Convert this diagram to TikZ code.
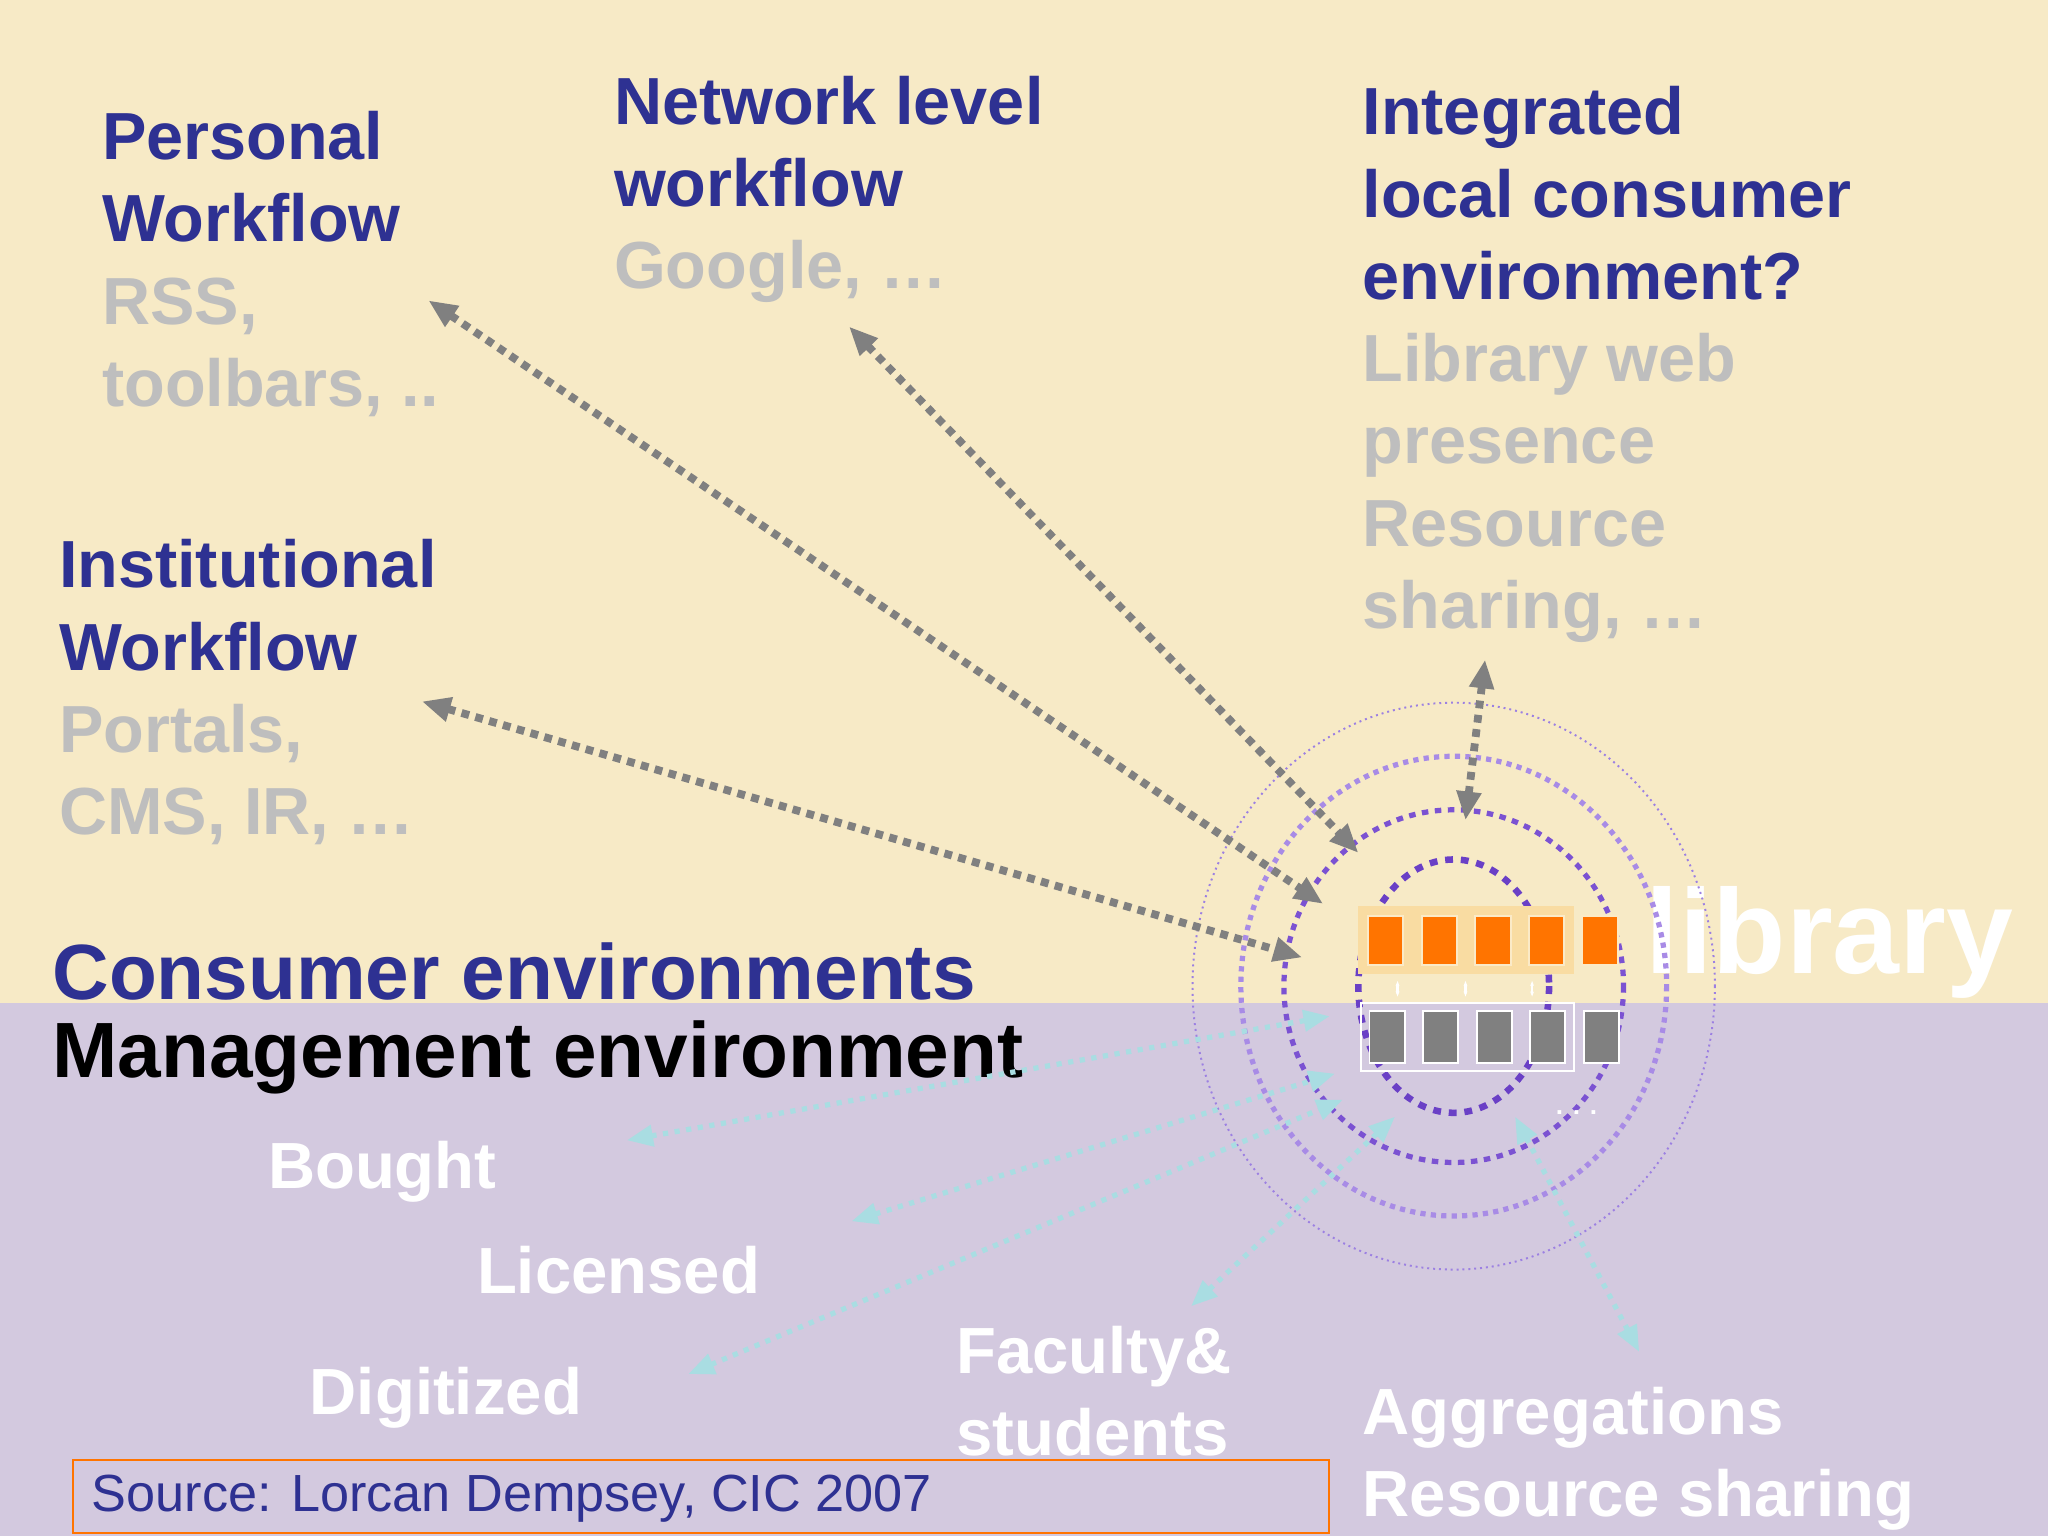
\documentclass[tikz,border=0pt]{standalone}
\usepackage{fontspec}
\setmainfont{Liberation Sans}
\usetikzlibrary{arrows.meta}
\definecolor{bgtop}{HTML}{F7EAC6}
\definecolor{bgbot}{HTML}{D3C9DF}
\definecolor{ttl}{HTML}{2E3192}
\definecolor{sub}{HTML}{BEBEBE}
\definecolor{arr}{HTML}{808080}
\definecolor{cya}{HTML}{A9DDE2}
\definecolor{pA}{HTML}{9C80E2}
\definecolor{pB}{HTML}{A88BE6}
\definecolor{pC}{HTML}{7B52D2}
\definecolor{pD}{HTML}{6A40C6}
\definecolor{org}{HTML}{FF7400}
\definecolor{orgbg}{HTML}{F9DCA2}
\tikzset{
  blk/.style={anchor=north west,inner sep=0pt,align=left,font=\fontsize{51}{63}\selectfont\bfseries},
  grayarr/.style={draw=arr,line width=6pt,dash pattern=on 6pt off 5pt,-{Triangle[length=22pt,width=18pt]}},
  cyarr/.style={draw=cya,line width=4pt,dash pattern=on 4pt off 5pt,{Triangle[length=20pt,width=16pt]}-{Triangle[length=20pt,width=16pt]}},
  obox/.style={fill=org,draw=orgbg!60!white,line width=1.5pt,minimum width=27pt,minimum height=37pt,inner sep=0pt},
  gbox/.style={fill=arr,draw=white,line width=1.5pt,minimum width=27pt,minimum height=40pt,inner sep=0pt},
}
\begin{document}
\begin{tikzpicture}[x=1pt,y=-1pt]
\useasboundingbox (0,0) rectangle (1568,1176);
\fill[bgtop] (0,0) rectangle (1568,768);
\fill[bgbot] (0,768) rectangle (1568,1176);
% library label
\node[anchor=base west,inner sep=0pt,text=white,font=\fontsize{92}{92}\selectfont\bfseries] (lib) at (1260,745) {library};
% rings
\coordinate (ctr) at (1113,755);
\draw[pA,line width=1.5pt,dash pattern=on 1.5pt off 3pt] (ctr) ellipse [x radius=200,y radius=217];
\draw[pB,line width=4pt,dash pattern=on 4pt off 4pt] (ctr) ellipse [x radius=163,y radius=176];
\draw[pC,line width=4pt,dash pattern=on 5pt off 5pt] (ctr) ellipse [x radius=130,y radius=135];
\draw[pD,line width=5pt,dash pattern=on 6pt off 6pt] (ctr) ellipse [x radius=73,y radius=97];
% boxes
\fill[orgbg] (1040,694) rectangle (1205,746);
\foreach \i in {0,...,4}{\node[obox] (o\i) at (1061+\i*41,720) {};}
\draw[white,line width=1.5pt] (1042,768) rectangle (1205,820);
\foreach \i in {0,...,4}{\node[gbox] (g\i) at (1062+\i*41,794) {};}
\foreach \x in {1070,1122,1173}{\draw[white,line width=2pt,{Stealth[length=4pt]}-{Stealth[length=4pt]}] (\x,751) -- (\x,763);}
\node[text=white,font=\fontsize{20}{20}\selectfont\bfseries,inner sep=0pt] (dots) at (1207,852) {. . .};
% texts
\node[blk] (pw) at (78,85) {\textcolor{ttl}{Personal}\\\textcolor{ttl}{Workflow}\\\textcolor{sub}{RSS,}\\\textcolor{sub}{toolbars, ..}};
\node[blk] (nw) at (470,58) {\textcolor{ttl}{Network level}\\\textcolor{ttl}{workflow}\\\textcolor{sub}{Google, …}};
\node[blk] (il) at (1043,66) {\textcolor{ttl}{Integrated}\\\textcolor{ttl}{local consumer}\\\textcolor{ttl}{environment?}\\\textcolor{sub}{Library web}\\\textcolor{sub}{presence}\\\textcolor{sub}{Resource}\\\textcolor{sub}{sharing, …}};
\node[blk] (iw) at (45,413) {\textcolor{ttl}{Institutional}\\\textcolor{ttl}{Workflow}\\\textcolor{sub}{Portals,}\\\textcolor{sub}{CMS, IR, …}};
\node[anchor=base west,inner sep=0pt,text=ttl,font=\fontsize{60}{60}\selectfont\bfseries] (ce) at (40,765) {Consumer environments};
\node[anchor=base west,inner sep=0pt,text=black,font=\fontsize{60}{60}\selectfont\bfseries] (me) at (40,825) {Management environment};
\tikzset{wt/.style={anchor=base west,inner sep=0pt,text=white,align=left,font=\fontsize{50}{63}\selectfont\bfseries}}
\node[wt] (bo) at (205,910) {Bought};
\node[wt] (li) at (365,990) {Licensed};
\node[wt] (di) at (237,1083) {Digitized};
\node[wt,anchor=north west] (fa) at (732,1015) {Faculty\&\\students};
\node[wt,anchor=north west] (ag) at (1043,1062) {Aggregations\\Resource sharing};
\node[draw=org,line width=1.5pt,anchor=north west,minimum width=962pt,minimum height=56pt,inner sep=0pt] (srcbox) at (55,1117) {};
\node[anchor=base west,inner sep=0pt,text=ttl,font=\fontsize{40}{40}\selectfont] (src) at (70,1157) {Source: Lorcan Dempsey, CIC 2007};
% gray arrows
\coordinate (p1) at (328,230); \coordinate (q1) at (1013,692);
\coordinate (p2) at (650,250); \coordinate (q2) at (1040,653);
\coordinate (p3) at (323,537); \coordinate (q3) at (997,733);
\coordinate (p4) at (1137,505); \coordinate (q4) at (1122,628);
\draw[grayarr,{Triangle[length=22pt,width=18pt]}-{Triangle[length=22pt,width=18pt]}] (p1) -- (q1);
\draw[grayarr,{Triangle[length=22pt,width=18pt]}-{Triangle[length=22pt,width=18pt]}] (p2) -- (q2);
\draw[grayarr,{Triangle[length=22pt,width=18pt]}-{Triangle[length=22pt,width=18pt]}] (p3) -- (q3);
\draw[grayarr,{Triangle[length=22pt,width=18pt]}-{Triangle[length=22pt,width=18pt]}] (p4) -- (q4);
% cyan arrows
\coordinate (c1) at (480,873); \coordinate (d1) at (1018,778);
\coordinate (c2) at (652,935); \coordinate (d2) at (1022,822);
\coordinate (c3) at (527,1052); \coordinate (d3) at (1028,842);
\coordinate (c4) at (912,1000); \coordinate (d4) at (1068,855);
\coordinate (c5) at (1255,1035); \coordinate (d5) at (1160,855);
\foreach \n in {1,...,5}{\draw[cyarr] (c\n) -- (d\n);}
\end{tikzpicture}
\end{document}
